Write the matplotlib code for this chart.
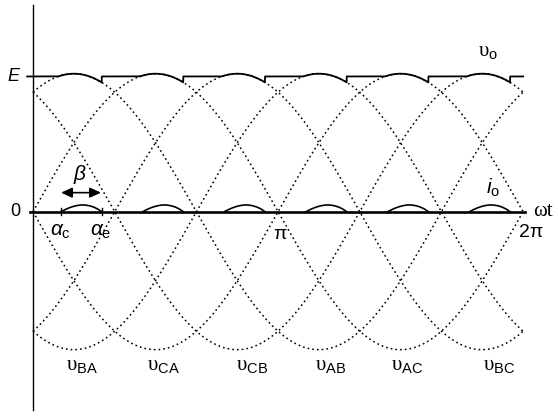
import numpy as np
import matplotlib.pyplot as plt

plt.rcParams['font.family'] = ['Liberation Sans', 'DejaVu Sans']
plt.rcParams['mathtext.fontset'] = 'custom'
plt.rcParams['mathtext.rm'] = 'Liberation Sans'
plt.rcParams['mathtext.it'] = 'Liberation Sans:italic'

# six line voltages, normalised amplitude 1, peaks every 60 degrees
peak_phases = np.array([1, 3, 5, 7, 9, 11]) * np.pi / 6
amplitude = 1.0
E = 0.98                 # dc output level
alpha_c = 0.359          # conduction start within each 60 deg interval (rad)
alpha_e = 0.88           # conduction end (rad)

trough_labels = ['BA', 'CA', 'CB', 'AB', 'AC', 'BC']
trough_label_x = [0.628, 1.667, 2.808, 3.82, 4.795, 5.974]

# current hump profile (fraction of conduction interval, height)
i_frac = [0, .1, .2, .3, .4, .5, .6, .7, .8, .9, 1]
i_height = [0, .015, .028, .038, .045, .049, .048, .043, .034, .02, 0]

fig = plt.figure(figsize=(5.58, 4.20), dpi=100)
ax = fig.add_axes([0, 0, 1, 1])
ax.set_xlim(-33 / 78, 525 / 78)
ax.set_ylim(-208.3 / 138, 211.7 / 138)
ax.axis('off')

seg = np.pi / 3
th = np.linspace(0, 2 * np.pi, 3000)
curves = np.array([amplitude * np.cos(th - p) for p in peak_phases])
for c in curves:
    ax.plot(th, c, color='black', lw=1.1, ls=(0, (1.1, 2.0)))

# output voltage: follows envelope while conducting, otherwise held at E
env = curves.max(axis=0)
phi = np.mod(th, seg)
cond = (env > E) | ((phi >= alpha_c) & (phi <= alpha_e))
vo = np.where(cond, env, E)
ax.plot(np.r_[-0.075, th], np.r_[E, vo], color='black', lw=1.3)

# axes
ax.plot([0, 0], [1.497, -1.44], color='black', lw=1.0)
ax.plot([-0.04, 2 * np.pi + 0.02], [0, 0], color='black', lw=1.9)

# output current humps
for k in range(6):
    a0 = k * seg + alpha_c
    xs = a0 + np.array(i_frac) * (alpha_e - alpha_c)
    ax.plot(xs, i_height, color='black', lw=1.2)

# alpha ticks
for a in (alpha_c, alpha_e):
    ax.plot([a, a], [-0.026, 0.026], color='black', lw=1.0)

ax.annotate('', xy=(0.872, 0.138), xytext=(0.359, 0.138),
            arrowprops=dict(arrowstyle='<|-|>,head_length=0.55,head_width=0.25',
                            mutation_scale=12, color='black', lw=1.2,
                            shrinkA=0, shrinkB=0))
ax.text(0.603, 0.266, r'$\beta$', fontsize=15, ha='center', va='center')

fs = 13
ax.text(-0.244, 0.983, r'$E$', fontsize=fs, ha='center', va='center')
ax.text(-0.231, 0.0, '0', fontsize=fs, ha='center', va='center')
ax.text(0.346, -0.147, r'$\alpha_{\rm c}$', fontsize=15, ha='center', va='center')
ax.text(0.872, -0.147, r'$\alpha_{\rm e}$', fontsize=15, ha='center', va='center')
ax.text(3.167, -0.162, 'π', fontsize=fs + 1, ha='center', va='center')
ax.text(6.385, -0.154, '2π', fontsize=fs + 1, ha='center', va='center')
ax.text(6.41, 0.005, 'ωt', fontsize=15, ha='left', va='center',
        family='Liberation Serif')
ax.text(5.833, 1.157, r'υ$_{\rm o}$', fontsize=15, ha='center', va='center',
        family='Liberation Serif')
ax.text(5.897, 0.172, r'$i_{\rm o}$', fontsize=15, ha='center', va='center')

for lab, x in zip(trough_labels, trough_label_x):
    ax.text(x, -1.125, r'υ$_{\rm %s}$' % lab, fontsize=15,
            ha='center', va='center', family='Liberation Serif')

fig.savefig('out.png', dpi=100)
